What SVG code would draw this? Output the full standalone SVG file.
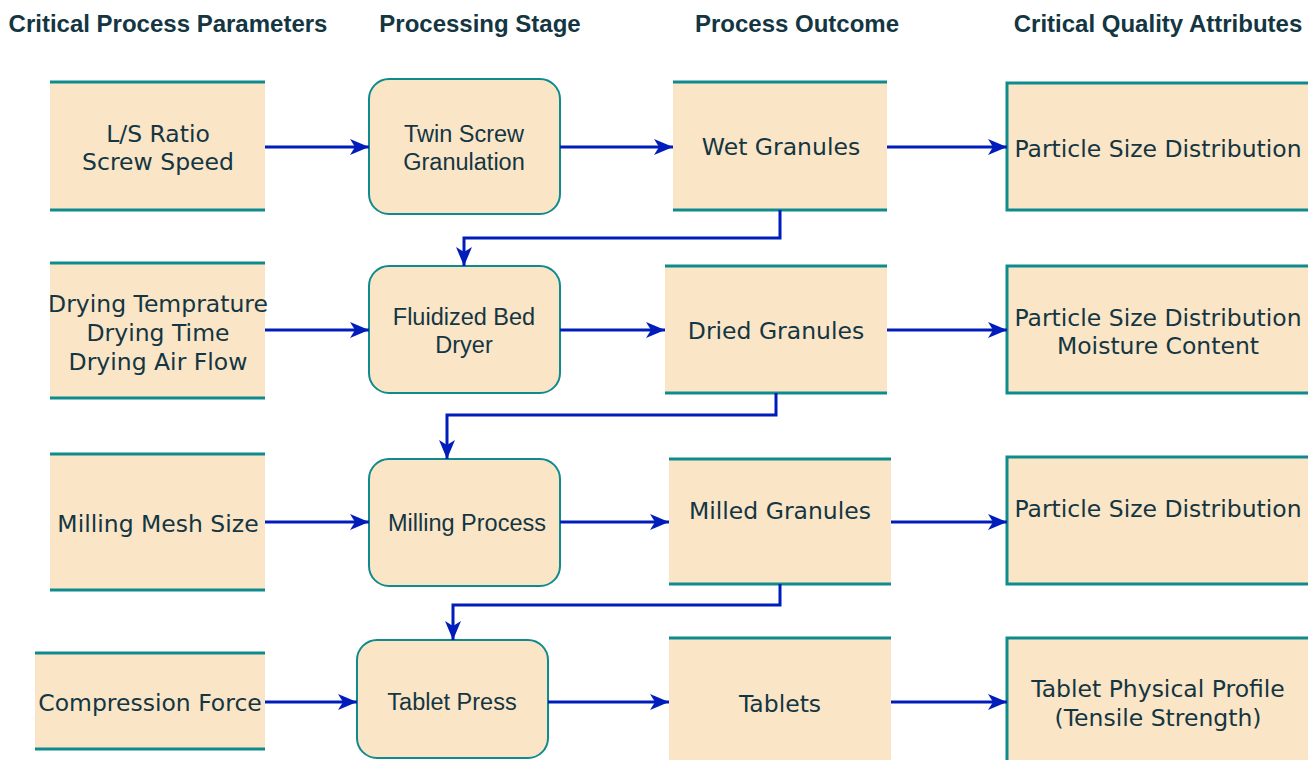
<svg xmlns="http://www.w3.org/2000/svg" width="1308" height="760" viewBox="0 0 1308 760">
<defs>
<style>
.hdr{font-family:"Liberation Sans",Arial,sans-serif;font-weight:bold;font-size:24px;fill:#143642;text-anchor:middle}
.t{font-family:"DejaVu Sans",Verdana,sans-serif;font-size:23.5px;fill:#143642;text-anchor:middle}
.ta{font-family:"Liberation Sans",Arial,sans-serif;font-size:23.5px;fill:#143642;text-anchor:middle}
.fill{fill:#FAE5C7;stroke:none}
.edge{stroke:#0F8B8D;stroke-width:3;fill:none}
.box{fill:#FAE5C7;stroke:#0F8B8D;stroke-width:3}
.rbox{fill:#FAE5C7;stroke:#0F8B8D;stroke-width:2}
.c{fill:none;stroke:#001DBC;stroke-width:3;marker-end:url(#ah)}
</style>
<marker id="ah" markerUnits="userSpaceOnUse" markerWidth="20" markerHeight="18" refX="19" refY="9" orient="auto">
<path d="M0,1 L19,9 L0,17 L5,9 z" fill="#001DBC"/>
</marker>
</defs>
<rect width="1308" height="760" fill="#ffffff"/>

<g id="headers">
<text class="hdr" x="168" y="32">Critical Process Parameters</text>
<text class="hdr" x="480" y="32">Processing Stage</text>
<text class="hdr" x="797" y="32">Process Outcome</text>
<text class="hdr" x="1158" y="32">Critical Quality Attributes</text>
</g>

<g id="cpp1">
<rect class="fill" x="50" y="82" width="215" height="128"/>
<path class="edge" d="M50,82 H265 M50,210 H265"/>
<text class="t" x="158" y="142">L/S Ratio</text>
<text class="t" x="158" y="170">Screw Speed</text>
</g>
<g id="stage1">
<rect class="rbox" x="369" y="79" width="191" height="135" rx="20"/>
<text class="ta" x="464" y="142">Twin Screw</text>
<text class="ta" x="464" y="170">Granulation</text>
</g>
<g id="out1">
<rect class="fill" x="673" y="82" width="214" height="128"/>
<path class="edge" d="M673,82 H887 M673,210 H887"/>
<text class="t" x="781" y="155">Wet Granules</text>
</g>
<g id="cqa1">
<rect class="box" x="1007" y="83" width="303" height="127"/>
<text class="t" x="1158" y="157">Particle Size Distribution</text>
</g>

<g id="cpp2">
<rect class="fill" x="50" y="263" width="215" height="135"/>
<path class="edge" d="M50,263 H265 M50,398 H265"/>
<text class="t" x="158" y="312">Drying Temprature</text>
<text class="t" x="158" y="341">Drying Time</text>
<text class="t" x="158" y="370">Drying Air Flow</text>
</g>
<g id="stage2">
<rect class="rbox" x="369" y="266" width="191" height="127" rx="20"/>
<text class="ta" x="464" y="325">Fluidized Bed</text>
<text class="ta" x="464" y="353">Dryer</text>
</g>
<g id="out2">
<rect class="fill" x="665" y="266" width="222" height="127"/>
<path class="edge" d="M665,266 H887 M665,393 H887"/>
<text class="t" x="776" y="339">Dried Granules</text>
</g>
<g id="cqa2">
<rect class="box" x="1007" y="266" width="303" height="127"/>
<text class="t" x="1158" y="326">Particle Size Distribution</text>
<text class="t" x="1158" y="354">Moisture Content</text>
</g>

<g id="cpp3">
<rect class="fill" x="50" y="454" width="215" height="136"/>
<path class="edge" d="M50,454 H265 M50,590 H265"/>
<text class="t" x="158" y="532">Milling Mesh Size</text>
</g>
<g id="stage3">
<rect class="rbox" x="369" y="459" width="191" height="127" rx="20"/>
<text class="ta" x="467" y="531">Milling Process</text>
</g>
<g id="out3">
<rect class="fill" x="669" y="459" width="222" height="125"/>
<path class="edge" d="M669,459 H891 M669,584 H891"/>
<text class="t" x="780" y="519">Milled Granules</text>
</g>
<g id="cqa3">
<rect class="box" x="1007" y="457" width="303" height="127"/>
<text class="t" x="1158" y="517">Particle Size Distribution</text>
</g>

<g id="cpp4">
<rect class="fill" x="35" y="653" width="230" height="96"/>
<path class="edge" d="M35,653 H265 M35,749 H265"/>
<text class="t" x="150" y="711">Compression Force</text>
</g>
<g id="stage4">
<rect class="rbox" x="357" y="640" width="191" height="118" rx="20"/>
<text class="ta" x="452" y="710">Tablet Press</text>
</g>
<g id="out4">
<rect class="fill" x="669" y="638" width="222" height="130"/>
<path class="edge" d="M669,638 H891"/>
<text class="t" x="780" y="712">Tablets</text>
</g>
<g id="cqa4">
<rect class="box" x="1007" y="638" width="303" height="130"/>
<text class="t" x="1158" y="697">Tablet Physical Profile</text>
<text class="t" x="1158" y="726">(Tensile Strength)</text>
</g>

<g id="connectors">
<path class="c" d="M265,147 H369"/>
<path class="c" d="M560,147 H673"/>
<path class="c" d="M887,147 H1007"/>
<path class="c" d="M780,210 V238 H464 V266"/>
<path class="c" d="M265,330 H369"/>
<path class="c" d="M560,330 H665"/>
<path class="c" d="M887,330 H1007"/>
<path class="c" d="M776,393 V415 H447 V459"/>
<path class="c" d="M265,522 H369"/>
<path class="c" d="M560,522 H669"/>
<path class="c" d="M891,522 H1007"/>
<path class="c" d="M780,584 V605 H453 V640"/>
<path class="c" d="M265,702 H357"/>
<path class="c" d="M548,702 H669"/>
<path class="c" d="M891,702 H1007"/>
</g>
</svg>
